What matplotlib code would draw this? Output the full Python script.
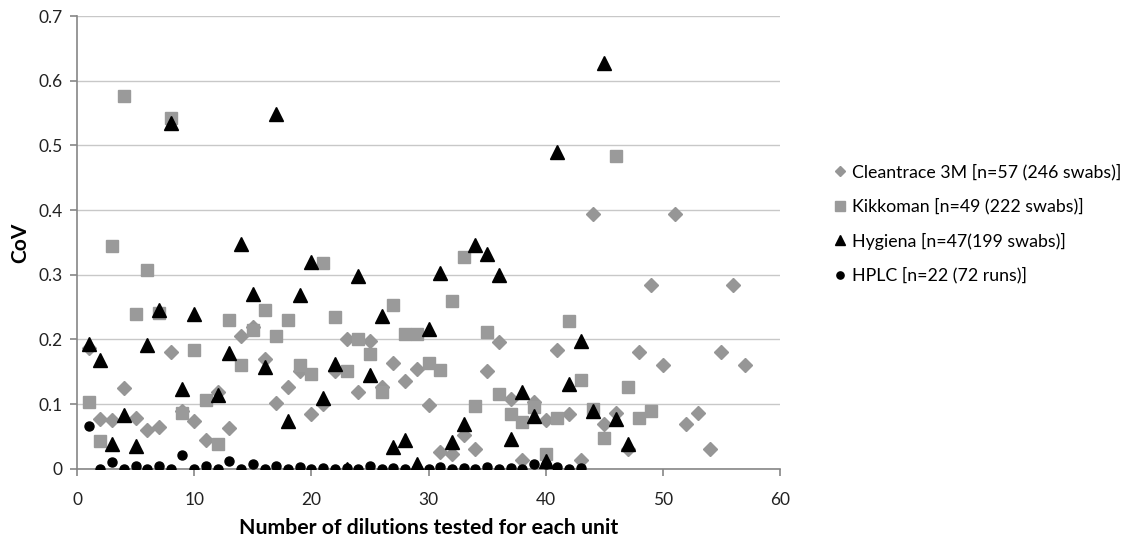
import matplotlib
matplotlib.use("Agg")
import matplotlib.pyplot as plt

plt.rcParams['font.family'] = ['Lato', 'DejaVu Sans']

# CoV values, one per dilution count starting at 1
cleantrace = [0.187, 0.077, 0.075, 0.125, 0.079, 0.060, 0.065, 0.180, 0.090, 0.074,
              0.044, 0.119, 0.063, 0.205, 0.220, 0.170, 0.102, 0.126, 0.152, 0.085,
              0.100, 0.152, 0.200, 0.119, 0.197, 0.126, 0.164, 0.136, 0.155, 0.099,
              0.026, 0.023, 0.052, 0.031, 0.151, 0.196, 0.108, 0.013, 0.103, 0.075,
              0.184, 0.085, 0.013, 0.394, 0.070, 0.087, 0.030, 0.180, 0.284, 0.161,
              0.394, 0.070, 0.087, 0.031, 0.180, 0.284, 0.161]
kikkoman = [0.103, 0.043, 0.345, 0.577, 0.240, 0.307, 0.241, 0.542, 0.087, 0.184,
            0.107, 0.038, 0.230, 0.160, 0.214, 0.245, 0.206, 0.230, 0.160, 0.147,
            0.319, 0.234, 0.152, 0.201, 0.177, 0.118, 0.253, 0.208, 0.208, 0.163,
            0.153, 0.259, 0.328, 0.097, 0.211, 0.116, 0.084, 0.073, 0.095, 0.023,
            0.078, 0.228, 0.138, 0.092, 0.047, 0.484, 0.127, 0.078, 0.090]
hygiena = [0.193, 0.169, 0.038, 0.083, 0.035, 0.192, 0.245, 0.535, 0.124, 0.240,
           0.000, 0.114, 0.179, 0.347, 0.271, 0.158, 0.549, 0.074, 0.268, 0.320,
           0.109, 0.162, 0.000, 0.298, 0.145, 0.236, 0.033, 0.044, 0.008, 0.216,
           0.302, 0.042, 0.069, 0.346, 0.332, 0.300, 0.046, 0.118, 0.081, 0.012,
           0.490, 0.131, 0.198, 0.090, 0.628, 0.077, 0.039]
hplc = [0.066, 0.000, 0.010, 0.000, 0.004, 0.000, 0.005, 0.000, 0.022, 0.000,
        0.004, 0.000, 0.012, 0.000, 0.008, 0.000, 0.004, 0.000, 0.003, 0.000,
        0.002, 0.000, 0.001, 0.000, 0.004, 0.000, 0.002, 0.000, 0.002, 0.000,
        0.003, 0.000, 0.002, 0.000, 0.003, 0.000, 0.002, 0.000, 0.007, 0.008,
        0.003, 0.000, 0.002]

labels = ['Cleantrace 3M [n=57 (246 swabs)]', 'Kikkoman [n=49 (222 swabs)]',
          'Hygiena [n=47(199 swabs)]', 'HPLC [n=22 (72 runs)]']

fig = plt.figure(figsize=(11.23, 5.37), dpi=100)
ax = fig.add_axes([0.0686, 0.127, 0.626, 0.843])

def xs(vals):
    return list(range(1, len(vals) + 1))

ax.plot(xs(cleantrace), cleantrace, 'D', color='#969696', markersize=7, label=labels[0], zorder=3)
ax.plot(xs(kikkoman), kikkoman, 's', color='#9a9a9a', markersize=8.5, label=labels[1], zorder=3)
ax.plot(xs(hygiena), hygiena, '^', color='black', markersize=9.5, label=labels[2], zorder=4)
ax.plot(xs(hplc), hplc, 'o', color='black', markersize=6.5, label=labels[3], zorder=5)

ax.set_xlim(0, 60)
ax.set_ylim(0, 0.7)
ax.set_xticks(range(0, 61, 10))
ax.set_yticks([0, 0.1, 0.2, 0.3, 0.4, 0.5, 0.6, 0.7])
ax.set_yticklabels(['0', '0.1', '0.2', '0.3', '0.4', '0.5', '0.6', '0.7'])
ax.yaxis.grid(True, color='#c8c8c8', linewidth=1)
ax.set_axisbelow(True)
for s in ['top', 'right']:
    ax.spines[s].set_visible(False)
for s in ['left', 'bottom']:
    ax.spines[s].set_color('#868686')
    ax.spines[s].set_linewidth(1.2)
ax.tick_params(axis='both', colors='#868686', labelcolor='#222222', labelsize=12.5, length=5, width=1.2)
ax.tick_params(axis='x', pad=12)
ax.tick_params(axis='y', pad=5.5)

ax.set_xlabel('Number of dilutions tested for each unit', fontsize=15.3, fontweight='bold', labelpad=7)
ax.set_ylabel('CoV', fontsize=15, fontweight='bold', labelpad=6)

ax.legend(loc='center left', bbox_to_anchor=(1.075, 0.541), frameon=False, fontsize=12.8,
          borderpad=0, borderaxespad=0, handlelength=0.8, handletextpad=0.3,
          labelspacing=1.0, markerscale=0.8)

fig.savefig('out.png', dpi=100)
